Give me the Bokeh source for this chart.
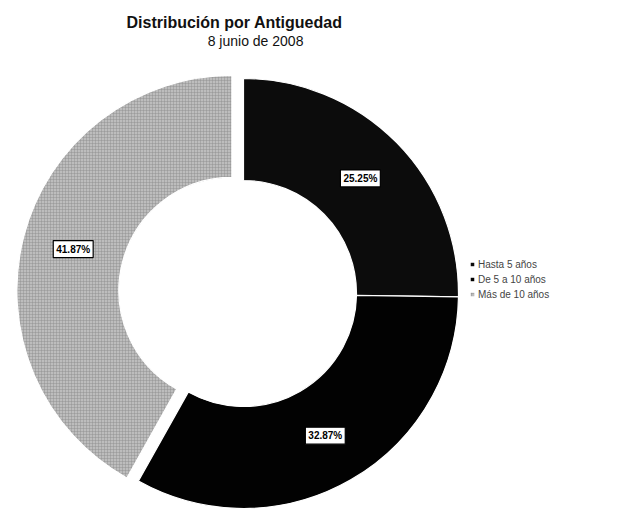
import numpy as np
from bokeh.plotting import figure
from bokeh.models import ColumnDataSource, Label, Legend, LegendItem, Range1d
from bokeh.core.properties import value
from bokeh.embed import file_html
from bokeh.resources import INLINE

# ---- data ----
categories = ["Hasta 5 años", "De 5 a 10 años", "Más de 10 años"]
values = [25.25, 32.87, 41.87]
colors = ["#0c0c0c", "#020202", "#bdbdbd"]
explode = [0, 0, 12]

title_text = "Distribución por Antiguedad"
subtitle_text = "8 junio  de 2008"

# ---- layout ----
W, H = 620, 510
cx, cy = 243, 217
R_out, R_in = 215, 113

p = figure(width=W, height=H, output_backend="svg", toolbar_location=None,
           x_range=Range1d(0, W), y_range=Range1d(0, H), min_border=0,
           tools="")
p.axis.visible = False
p.grid.visible = False
p.outline_line_color = None
p.background_fill_color = "white"

vals = np.array(values, dtype=float)
frac = vals / vals.sum()
cum = np.concatenate([[0], np.cumsum(frac)])
start = np.deg2rad(90 - cum[:-1] * 360)
end = np.deg2rad(90 - cum[1:] * 360)
mid = (start + end) / 2
ex = np.array(explode, dtype=float)
xs = cx + ex * np.cos(mid)
ys = cy + ex * np.sin(mid)
r_lab = (R_out + R_in) / 2
lx = xs + r_lab * np.cos(mid)
ly = ys + r_lab * np.sin(mid)
labels = ["%.2f%%" % v for v in values]

src = ColumnDataSource(dict(x=xs, y=ys, start=start, end=end, color=colors,
                            cat=categories, lx=lx, ly=ly, lab=labels))

renderers = []
for i in range(len(values)):
    kw = {}
    if i == 2:
        kw = dict(hatch_pattern="cross", hatch_color="#8c8c8c", hatch_scale=3,
                  hatch_weight=0.6, hatch_alpha=0.7)
    r = p.annular_wedge(x=xs[i], y=ys[i], inner_radius=R_in, outer_radius=R_out,
                        start_angle=start[i], end_angle=end[i], direction="clock",
                        fill_color=colors[i], line_color="white", line_width=1.2, **kw)
    renderers.append(r)

p.text(x="lx", y="ly", text="lab", source=src,
       text_align="center", text_baseline="middle",
       text_font=value("Liberation Sans"), text_font_size="10px",
       text_font_style="bold", text_color="black",
       background_fill_color="white", border_line_color="black",
       border_line_width=1.2, padding=3)

p.add_layout(Label(x=234, y=488, text=title_text, text_align="center",
                   text_baseline="middle", text_font="Liberation Sans",
                   text_font_size="16px", text_font_style="bold", text_color="#111"))
p.add_layout(Label(x=257, y=470, text=subtitle_text, text_align="center",
                   text_baseline="middle", text_font="Liberation Sans",
                   text_font_size="14px", text_color="#111"))

legend = Legend(items=[LegendItem(label=c, renderers=[r]) for c, r in zip(categories, renderers)],
                location=(469, 210), label_text_font="Liberation Sans",
                label_text_font_size="10px", glyph_width=6, glyph_height=6,
                label_height=12, spacing=3, padding=0, margin=0,
                border_line_color=None, background_fill_alpha=0, label_standoff=3)
p.add_layout(legend, "center")

open("out.html", "w").write(file_html(p, INLINE))
